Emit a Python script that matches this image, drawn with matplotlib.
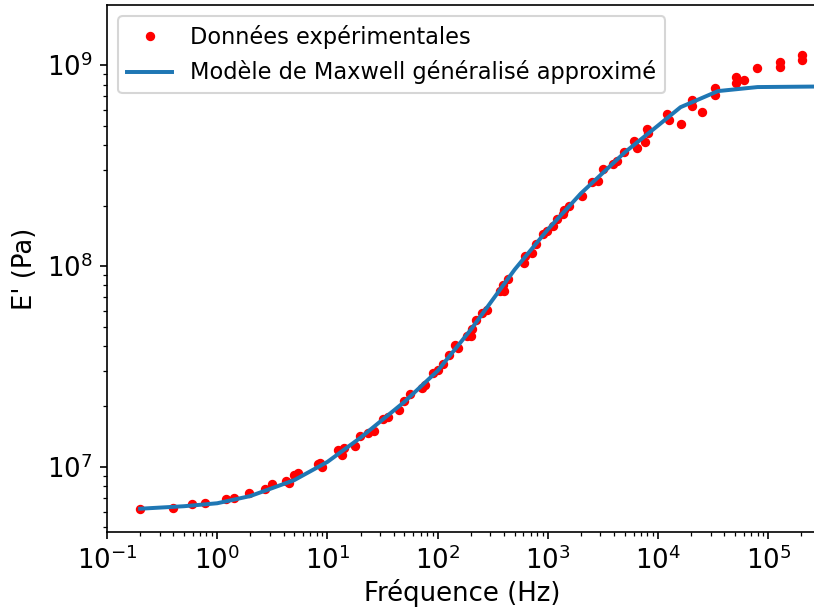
import numpy as np
import matplotlib.pyplot as plt

# Données (fréquence en Hz, module E' en Pa)
freq_data = [0.2, 0.4, 0.59, 0.78, 1.2, 1.43, 1.96, 2.72, 3.13, 4.22, 4.5, 4.99, 5.46,
             8.2, 8.6, 8.9, 12.6, 13.5, 14.0, 17.8, 19.8, 23.6, 26.5, 32.2, 35.7,
             44.7, 49.5, 56.2, 71.8, 76.9, 91.4, 101, 113, 128, 144, 154, 184, 200,
             205, 225, 251, 282, 368, 390, 400, 437, 607, 620, 713, 789, 898, 975,
             1119, 1202, 1378, 1400, 1563, 2024, 2494, 2862, 3177, 3917, 4205, 4898,
             6040, 6383, 7586, 7962, 8130, 12100, 12630, 16000, 20200, 20200, 25300,
             32900, 32900, 51000, 51000, 60400, 79800, 128000, 128000, 201000, 201000]
E_data = [6.17e6, 6.27e6, 6.52e6, 6.59e6, 6.9e6, 6.98e6, 7.45e6, 7.76e6, 8.2e6, 8.55e6,
          8.3e6, 9.1e6, 9.3e6, 1.03e7, 1.05e7, 9.96e6, 1.21e7, 1.15e7, 1.24e7, 1.27e7,
          1.43e7, 1.47e7, 1.51e7, 1.74e7, 1.78e7, 1.92e7, 2.12e7, 2.31e7, 2.47e7, 2.57e7,
          2.93e7, 3.05e7, 3.27e7, 3.62e7, 4.06e7, 3.91e7, 4.47e7, 4.47e7, 4.86e7, 5.37e7,
          5.85e7, 6.07e7, 7.48e7, 8.09e7, 7.48e7, 8.57e7, 1.04e8, 1.12e8, 1.16e8, 1.28e8,
          1.44e8, 1.49e8, 1.58e8, 1.71e8, 1.81e8, 1.91e8, 1.99e8, 2.23e8, 2.62e8, 2.65e8,
          3.03e8, 3.21e8, 3.33e8, 3.70e8, 4.20e8, 3.85e8, 4.12e8, 4.80e8, 4.61e8, 5.70e8,
          5.32e8, 5.08e8, 6.72e8, 6.27e8, 5.85e8, 7.66e8, 7.12e8, 8.69e8, 8.11e8, 8.45e8,
          9.66e8, 1.04e9, 9.82e8, 1.12e9, 1.06e9]

# Modèle (courbe bleue)
freq_model = [0.2, 0.5, 1, 2, 5, 10, 20, 50, 100, 200, 500, 1000, 2000, 5000,
              10000, 16000, 35000, 80000, 300000]
E_model = [6.2e6, 6.38e6, 6.6e6, 7.17e6, 8.6e6, 1.06e7, 1.4e7, 2.11e7, 3.01e7, 4.82e7,
           9.6e7, 1.52e8, 2.3e8, 3.68e8, 5.0e8, 6.17e8, 7.42e8, 7.77e8, 7.82e8]

fig = plt.figure(figsize=(814 / 150, 614 / 150), dpi=150)
ax = fig.add_axes([0.1314, 0.1336, 0.874, 0.8583])

ax.plot(freq_data, E_data, 'r.', markersize=7, label='Données expérimentales')
ax.plot(freq_model, E_model, linewidth=1.9, label='Modèle de Maxwell généralisé approximé')

ax.set_xscale('log')
ax.set_yscale('log')
ax.set_xlim(0.1, 2.85e5)
ax.set_ylim(4.75e6, 1.99e9)
ax.set_xlabel('Fréquence (Hz)', fontsize=12.5, labelpad=2)
ax.set_ylabel("E' (Pa)", fontsize=12.5)
ax.tick_params(which='major', labelsize=12.5)
ax.legend(loc='upper left', fontsize=10.8)

fig.savefig('out.png', dpi=150)
